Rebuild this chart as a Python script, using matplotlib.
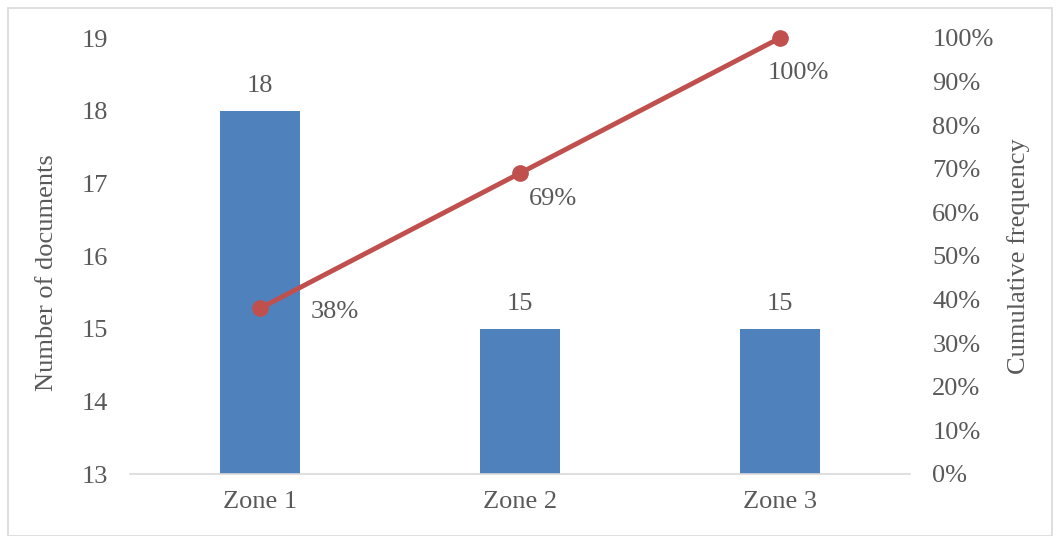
import matplotlib as mpl
mpl.use("Agg")
import matplotlib.pyplot as plt
from matplotlib.patches import Rectangle

zones = ["Zone 1", "Zone 2", "Zone 3"]
documents = [18, 15, 15]
cumulative = [38, 69, 100]
cumulative_labels = ["38%", "69%", "100%"]
# label offsets from each marker, in pixels (dx, dy)
label_offsets = [(75, -4), (33, -26), (18, -35)]

plt.rcParams['font.family'] = ['Liberation Serif', 'DejaVu Serif']
text_color = '#595959'
bar_color = '#4F81BD'
line_color = '#C0504D'
fs = 19

fig = plt.figure(figsize=(10.6, 5.36), dpi=100)
fig.patches.append(Rectangle((8 / 1060, 0.0), 1 - 16 / 1060, 1 - 8 / 536,
                             transform=fig.transFigure, fill=False,
                             edgecolor='#d9d9d9', linewidth=1.2))

ax = fig.add_axes([130 / 1060, 1 - 474 / 536, 780 / 1060, 436 / 536])
x = list(range(len(zones)))
base = 13
ax.bar(x, [d - base for d in documents], width=0.31, bottom=base, color=bar_color, zorder=2)
ax.set_ylim(13, 19)
ax.set_xlim(-0.5, 2.5)
ax.set_yticks(range(13, 20))
ax.set_xticks(x)
ax.set_xticklabels(zones)
for i, v in enumerate(documents):
    ax.annotate(str(v), (i, v), xytext=(0, 25), textcoords='offset pixels',
                ha='center', va='center', fontsize=fs, color=text_color)
ax.set_ylabel("Number of documents", fontsize=fs, color=text_color)
ax.yaxis.set_label_coords(-0.092, 0.463)

for side in ['top', 'left', 'right']:
    ax.spines[side].set_visible(False)
ax.spines['bottom'].set_color('#d9d9d9')
ax.spines['bottom'].set_linewidth(1.2)
ax.tick_params(axis='both', length=0, labelsize=fs, labelcolor=text_color)
ax.tick_params(axis='x', pad=12)
ax.tick_params(axis='y', pad=16)

ax2 = ax.twinx()
ax2.plot(x, cumulative, color=line_color, linewidth=3.5, marker='o',
         markersize=11, zorder=3, clip_on=False)
ax2.set_ylim(0, 100)
ax2.set_yticks(range(0, 101, 10))
ax2.set_yticklabels([f"{t}%" for t in range(0, 101, 10)])
for i, v in enumerate(cumulative):
    ax2.annotate(cumulative_labels[i], (i, v), xytext=label_offsets[i],
                 textcoords='offset pixels', ha='center', va='center',
                 fontsize=fs, color=text_color)
ax2.set_ylabel("Cumulative frequency", fontsize=fs, color=text_color, labelpad=10)
for side in ['top', 'left', 'right', 'bottom']:
    ax2.spines[side].set_visible(False)
ax2.tick_params(axis='y', length=0, labelsize=fs, labelcolor=text_color, pad=16)

fig.savefig("out.png", dpi=100)
